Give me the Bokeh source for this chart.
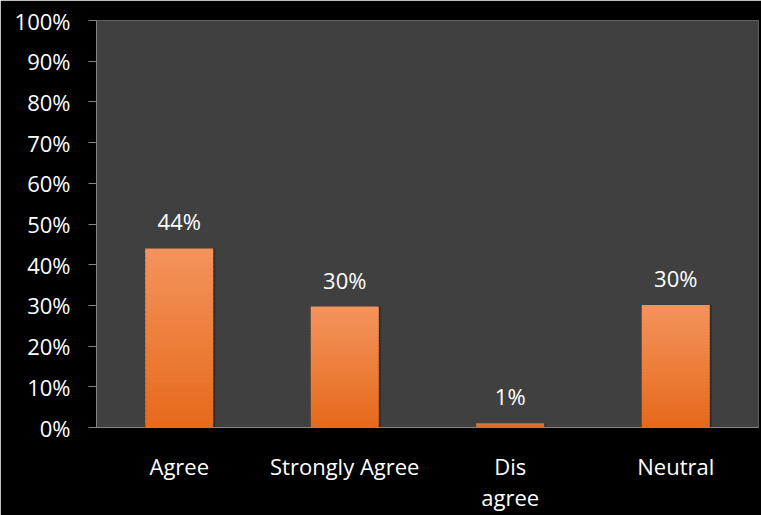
from bokeh.plotting import figure
from bokeh.models import ColumnDataSource, FactorRange, Range1d, NumeralTickFormatter, FixedTicker
from bokeh.core.properties import value
from bokeh.transform import dodge
from bokeh.embed import file_html
from bokeh.resources import INLINE

categories = ["Agree", "Strongly Agree", "Dis\nagree", "Neutral"]
values = [0.44, 0.297, 0.01, 0.301]
labels = ["44%", "30%", "1%", "30%"]
y_ticks = [0.0, 0.1, 0.2, 0.3, 0.4, 0.5, 0.6, 0.7, 0.8, 0.9, 1.0]

FONT = "Open Sans"
bottom_rgb = (0xE6, 0x6A, 0x1C)
top_rgb = (0xF4, 0x93, 0x5C)

p = figure(width=761, height=515, x_range=FactorRange(*categories),
           y_range=Range1d(0, 1), output_backend="svg", toolbar_location=None,
           min_border_left=96, min_border_right=3, min_border_top=20, min_border_bottom=87)
p.background_fill_color = "#404040"
p.border_fill_color = "black"
p.outline_line_color = None
p.xgrid.grid_line_color = None
p.ygrid.grid_line_color = None

# soft shadow to the right of each bar
ssrc = ColumnDataSource(dict(x=categories, top=values))
p.vbar(x=dodge("x", 0.012, range=p.x_range), top="top", width=0.41, fill_color="black",
       fill_alpha=0.3, line_color=None, source=ssrc)

# gradient bars built as overlapping slices of each value
N = 40
xs, bots, tops, cols = [], [], [], []
for c, v in zip(categories, values):
    for k in range(N):
        t = k / (N - 1)
        rgb = tuple(int(round(b + (tt - b) * t)) for b, tt in zip(bottom_rgb, top_rgb))
        xs.append(c)
        bots.append(v * k / N)
        tops.append(min(v, v * (k + 1.6) / N))
        cols.append("#%02x%02x%02x" % rgb)
src = ColumnDataSource(dict(x=xs, bottom=bots, top=tops, color=cols))
p.vbar(x="x", bottom="bottom", top="top", width=0.41, fill_color="color", line_color=None,
       source=src)

lsrc = ColumnDataSource(dict(x=categories, y=values, t=labels))
p.text(x="x", y="y", text="t", source=lsrc, text_color="white", text_align="center",
       text_baseline="alphabetic", y_offset=-27, text_font=value(FONT), text_font_size="22px")

ya = p.yaxis[0]
ya.ticker = FixedTicker(ticks=y_ticks)
ya.formatter = NumeralTickFormatter(format="0%")
ya.axis_line_color = "#868686"
ya.major_tick_line_color = "#868686"
ya.major_tick_out = 8
ya.major_tick_in = 0
ya.minor_tick_line_color = None
ya.major_label_text_color = "white"
ya.major_label_text_font = FONT
ya.major_label_text_font_size = "22px"
ya.major_label_standoff = 18

xa = p.xaxis[0]
xa.axis_line_color = "#868686"
xa.major_tick_line_color = None
xa.minor_tick_line_color = None
xa.major_label_text_color = "white"
xa.major_label_text_font = FONT
xa.major_label_text_font_size = "22px"
xa.major_label_text_line_height = 1.05
xa.major_label_standoff = 17

open("out.html", "w").write(file_html(p, INLINE))
